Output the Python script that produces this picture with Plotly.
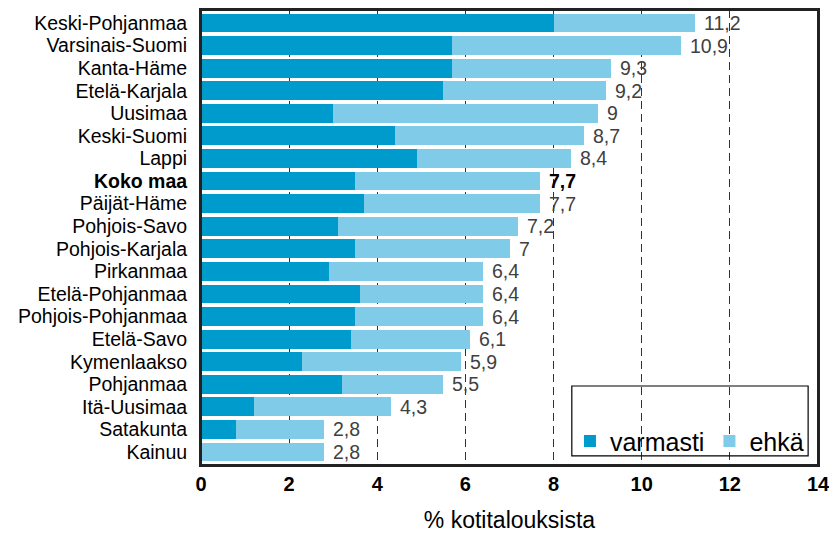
import plotly.graph_objects as go

categories = ["Keski-Pohjanmaa", "Varsinais-Suomi", "Kanta-Häme", "Etelä-Karjala", "Uusimaa",
              "Keski-Suomi", "Lappi", "Koko maa", "Päijät-Häme", "Pohjois-Savo",
              "Pohjois-Karjala", "Pirkanmaa", "Etelä-Pohjanmaa", "Pohjois-Pohjanmaa", "Etelä-Savo",
              "Kymenlaakso", "Pohjanmaa", "Itä-Uusimaa", "Satakunta", "Kainuu"]
totals = [11.2, 10.9, 9.3, 9.2, 9.0, 8.7, 8.4, 7.7, 7.7, 7.2,
          7.0, 6.4, 6.4, 6.4, 6.1, 5.9, 5.5, 4.3, 2.8, 2.8]
varmasti = [8.0, 5.7, 5.7, 5.5, 3.0, 4.4, 4.9, 3.5, 3.7, 3.1,
            3.5, 2.9, 3.6, 3.5, 3.4, 2.3, 3.2, 1.2, 0.8, 0.0]
ehka = [round(t - v, 2) for t, v in zip(totals, varmasti)]
x_ticks = [0, 2, 4, 6, 8, 10, 12, 14]
highlight = "Koko maa"

DARK = "#009BCD"
LIGHT = "#80CBE7"
FONT = "Liberation Sans, Arial, sans-serif"

def fmt(v):
    s = ("%g" % v)
    return s.replace(".", ",")

fig = go.Figure()
fig.add_trace(go.Bar(y=categories, x=varmasti, orientation="h", name="varmasti",
                     marker=dict(color=DARK, line=dict(width=0))))
fig.add_trace(go.Bar(y=categories, x=ehka, orientation="h", name="ehkä",
                     marker=dict(color=LIGHT, line=dict(width=0))))

annotations = []
for c, t in zip(categories, totals):
    bold = c == highlight
    annotations.append(dict(
        x=t, y=c, xref="x", yref="y", text=("<b>%s</b>" % fmt(t)) if bold else fmt(t),
        showarrow=False, xanchor="left", yanchor="middle", xshift=7,
        font=dict(family=FONT, size=19.5, color="#000000" if bold else "#404040")))

ticktext = ["<b>%s</b>" % c if c == highlight else c for c in categories]

fig.update_layout(
    width=829, height=538,
    margin=dict(l=201, r=11, t=10, b=73, autoexpand=False),
    paper_bgcolor="white", plot_bgcolor="white",
    barmode="stack", bargap=0.165,
    font=dict(family=FONT, color="#000000"),
    showlegend=True,
    legend=dict(orientation="h", x=0.598, xanchor="left", y=0.052, yanchor="middle",
                bgcolor="rgba(0,0,0,0)", borderwidth=0,
                font=dict(family=FONT, size=25, color="#000000"),
                itemwidth=30, traceorder="normal"),
    annotations=annotations,
    shapes=[
        dict(type="rect", xref="paper", yref="paper", x0=0.601, x1=0.984,
             y0=0.02, y1=0.1736, line=dict(color="#000000", width=1.2),
             fillcolor="rgba(0,0,0,0)", layer="above"),
        dict(type="rect", xref="paper", yref="paper", x0=0, x1=1, y0=0, y1=1,
             line=dict(color="#222222", width=2), fillcolor="rgba(0,0,0,0)", layer="above"),
    ],
)

fig.update_xaxes(range=[0, 14], tickvals=x_ticks, ticktext=["<b>%d</b>" % v for v in x_ticks],
                 tickfont=dict(family=FONT, size=20, color="#000000"),
                 ticklabeloverflow="allow",
                 title=dict(text="% kotitalouksista", standoff=18,
                            font=dict(family=FONT, size=23, color="#000000")),
                 showgrid=True, gridcolor="#333333", gridwidth=1, griddash="8px,5px",
                 showline=True, linecolor="#222222", linewidth=2, mirror=True,
                 ticks="", zeroline=False, fixedrange=True, automargin=False)
fig.update_yaxes(categoryorder="array", categoryarray=categories, autorange="reversed",
                 tickvals=categories, ticktext=ticktext,
                 tickfont=dict(family=FONT, size=19.5, color="#000000"),
                 showline=True, linecolor="#222222", linewidth=2, mirror=True,
                 ticks="", ticklabelstandoff=8, showgrid=False, fixedrange=True,
                 automargin=False)

fig.write_html("out.html", config={"displayModeBar": False},
               post_script="document.body.style.margin='0';document.body.style.padding='0';")
